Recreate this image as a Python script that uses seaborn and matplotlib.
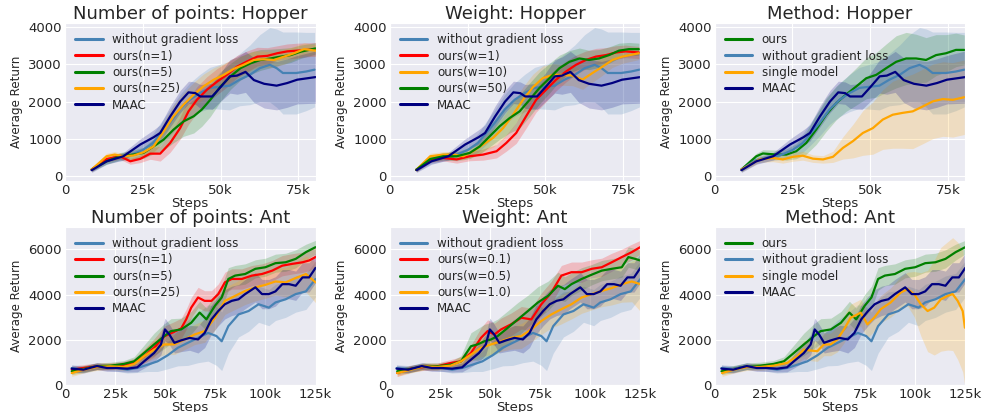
import numpy as np
import matplotlib
matplotlib.use("Agg")
import matplotlib.pyplot as plt
import seaborn as sns

# ---------------- data (steps in thousands) ----------------
# Hopper
hop_maac_x = [8.6, 13.4, 18.8, 24.2, 28.5, 30.6, 33.8, 37.0, 39.7, 41.9, 43.5, 47.3, 50.0, 53.0, 55.3, 58.0, 60.7, 64.0, 68.0, 71.4, 74.6, 80.5]
hop_maac_y = [160, 400, 535, 850, 1045, 1160, 1600, 2000, 2250, 2230, 2140, 2140, 2390, 2680, 2700, 2800, 2580, 2480, 2430, 2500, 2590, 2660]
hop_maac_s = [60, 80, 100, 150, 200, 220, 280, 300, 300, 300, 320, 350, 380, 450, 500, 550, 600, 650, 650, 650, 650, 700]

hop_nograd_x = [8.6, 13.0, 17.0, 21.0, 25.0, 28.3, 30.5, 33.7, 36.9, 40.1, 43.3, 46.5, 49.7, 52.9, 56.1, 59.4, 62.6, 65.8, 68.0, 70.0, 74.3, 77.5, 80.2]
hop_nograd_y = [180, 420, 500, 560, 700, 890, 1110, 1430, 1790, 2050, 2230, 2370, 2400, 2430, 2590, 2720, 2900, 2990, 2900, 2770, 2770, 2810, 2860]
hop_nograd_s = [60, 90, 100, 120, 180, 250, 300, 350, 400, 450, 500, 550, 600, 650, 700, 800, 900, 1000, 1050, 1100, 1100, 1050, 1000]

hop_n1_x = [8.6, 13.4, 17.7, 21.0, 24.2, 27.4, 30.6, 33.8, 37.0, 39.7, 42.4, 45.6, 48.9, 52.0, 55.3, 58.5, 61.8, 65.0, 68.2, 71.4, 74.6, 80.5]
hop_n1_y = [180, 460, 535, 400, 465, 605, 605, 890, 1290, 1740, 2050, 2320, 2540, 2720, 2940, 3080, 3210, 3230, 3300, 3350, 3370, 3410]
hop_n1_s = [50, 80, 80, 80, 100, 150, 200, 250, 300, 350, 350, 350, 350, 330, 300, 280, 250, 220, 200, 200, 200, 180]

hop_n5_x = [8.6, 13.4, 17.7, 22.0, 25.2, 28.5, 31.7, 34.9, 38.1, 41.4, 44.0, 46.7, 50.0, 53.2, 56.4, 59.6, 62.8, 66.0, 69.3, 72.5, 75.7, 80.5]
hop_n5_y = [180, 400, 535, 580, 625, 800, 980, 1250, 1470, 1610, 1790, 2050, 2410, 2680, 2900, 3030, 3120, 3160, 3210, 3250, 3340, 3430]
hop_n5_s = [50, 80, 100, 120, 150, 200, 280, 350, 400, 450, 450, 450, 400, 350, 320, 300, 280, 250, 220, 200, 180, 150]

hop_n25_x = [8.6, 13.4, 16.0, 18.8, 22.0, 25.2, 28.5, 31.7, 34.9, 38.1, 41.4, 44.5, 47.8, 51.0, 54.2, 57.4, 60.7, 63.9, 67.1, 70.4, 73.6, 76.8, 80.5]
hop_n25_y = [180, 535, 580, 535, 555, 640, 800, 1200, 1610, 1920, 2190, 2410, 2590, 2720, 2880, 2990, 3120, 3140, 3120, 3210, 3300, 3410, 3370]
hop_n25_s = [50, 80, 80, 80, 100, 120, 180, 250, 300, 320, 330, 330, 320, 300, 280, 260, 240, 220, 200, 200, 180, 170, 160]

hop_w1_x = [8.5, 13.0, 17.2, 21.5, 25.7, 30.0, 34.3, 37.4, 40.6, 43.8, 47.0, 50.2, 53.4, 56.6, 59.8, 63.0, 66.2, 69.4, 72.6, 75.7, 80.0]
hop_w1_y = [170, 450, 490, 450, 535, 580, 670, 890, 1160, 1610, 2050, 2320, 2590, 2810, 2990, 3120, 3210, 3250, 3320, 3350, 3320]
hop_w1_s = [50, 80, 80, 100, 120, 150, 180, 220, 280, 320, 330, 320, 300, 280, 260, 240, 220, 200, 180, 170, 160]

hop_w10_x = [8.5, 13.0, 17.2, 20.4, 23.6, 26.8, 30.0, 33.2, 36.4, 39.6, 42.8, 46.0, 49.1, 52.3, 55.5, 58.7, 61.9, 65.1, 68.3, 71.5, 74.7, 80.0]
hop_w10_y = [170, 535, 580, 580, 535, 670, 850, 1030, 1290, 1650, 2050, 2390, 2630, 2720, 2720, 2700, 2590, 2770, 2940, 3120, 3210, 3300]
hop_w10_s = [50, 80, 80, 90, 100, 150, 200, 250, 300, 330, 350, 350, 330, 300, 280, 270, 260, 250, 230, 200, 180, 170]

hop_w50_x = [8.5, 13.0, 17.2, 21.5, 25.7, 28.9, 32.1, 35.3, 38.5, 41.7, 44.9, 48.1, 51.3, 54.5, 57.7, 60.9, 64.0, 67.2, 70.4, 73.6, 76.8, 80.0]
hop_w50_y = [170, 460, 535, 535, 625, 800, 1070, 1340, 1560, 1740, 2050, 2370, 2630, 2900, 3070, 3160, 3120, 3160, 3250, 3370, 3410, 3410]
hop_w50_s = [50, 80, 100, 120, 150, 200, 280, 350, 400, 450, 450, 430, 400, 350, 300, 280, 260, 240, 220, 200, 180, 160]

hop_ours_x = [8.6, 13.4, 15.5, 19.8, 23.0, 26.2, 29.4, 32.6, 35.8, 39.0, 42.2, 45.5, 48.7, 51.9, 55.1, 58.3, 61.5, 64.7, 67.9, 71.1, 74.3, 77.5, 80.2]
hop_ours_y = [180, 535, 610, 580, 580, 670, 890, 1250, 1650, 1960, 2190, 2410, 2630, 2720, 2900, 3070, 3160, 3160, 3120, 3250, 3300, 3390, 3390]
hop_ours_s = [60, 80, 100, 120, 150, 200, 300, 400, 450, 450, 450, 500, 550, 600, 650, 700, 700, 650, 600, 550, 500, 450, 400]

hop_single_x = [8.6, 14.4, 18.7, 21.9, 25.1, 28.3, 31.6, 34.8, 38.0, 41.2, 44.4, 47.6, 50.8, 54.0, 57.2, 60.4, 63.6, 66.8, 70.1, 73.3, 76.5, 80.2]
hop_single_y = [180, 450, 490, 450, 520, 550, 470, 450, 520, 760, 940, 1160, 1290, 1520, 1650, 1700, 1740, 1870, 2010, 2070, 2050, 2120]
hop_single_s = [60, 80, 100, 100, 120, 120, 100, 100, 150, 300, 450, 600, 700, 800, 900, 950, 1000, 1000, 1000, 1000, 1000, 1000]

# Ant
ant_maac_x = [3.4, 9.2, 16.0, 21.0, 26.0, 31.1, 36.1, 39.5, 44.5, 47.9, 49.9, 52.1, 54.6, 58.0, 62.2, 66.4, 69.7, 73.1, 76.5, 79.8, 83.2, 86.6, 89.9, 95.0, 98.3, 101.7, 105.0, 108.4, 111.8, 115.1, 118.5, 121.8, 125.0]
ant_maac_y = [715, 670, 830, 745, 745, 715, 775, 1040, 1410, 1785, 2455, 2230, 1860, 1970, 2080, 2010, 2300, 2900, 3270, 3570, 3720, 3790, 4020, 4320, 4020, 4020, 4140, 4460, 4460, 4390, 4760, 4760, 5180]
ant_maac_s = [150, 150, 150, 150, 150, 150, 200, 300, 400, 450, 500, 450, 450, 500, 550, 600, 650, 650, 650, 650, 650, 650, 650, 650, 650, 650, 650, 650, 650, 650, 650, 650, 650]

ant_nograd_x = [3.4, 9.2, 16.0, 21.0, 26.0, 31.1, 36.1, 41.2, 46.2, 51.3, 56.3, 61.3, 66.4, 71.4, 75.6, 78.2, 81.5, 86.6, 91.6, 96.6, 101.7, 105.0, 110.1, 115.1, 120.2, 125.0]
ant_nograd_y = [745, 700, 820, 790, 745, 670, 745, 890, 1040, 1310, 1640, 1860, 2080, 2300, 2160, 1930, 2600, 3120, 3270, 3570, 3420, 3650, 3790, 4020, 4140, 4690]
ant_nograd_s = [150, 150, 150, 150, 150, 150, 200, 300, 450, 600, 800, 1000, 1100, 1250, 1300, 1300, 1200, 1000, 900, 800, 800, 800, 800, 800, 800, 800]

ant_n1_x = [3.4, 9.2, 16.0, 22.7, 29.4, 34.5, 39.5, 44.5, 49.6, 54.6, 58.0, 60.5, 63.0, 66.4, 69.7, 73.1, 76.5, 79.8, 83.2, 88.2, 93.3, 98.3, 103.4, 108.4, 113.4, 118.5, 121.8, 125.0]
ant_n1_y = [670, 745, 820, 820, 890, 970, 1265, 1640, 2150, 2350, 2500, 2900, 3420, 3870, 3720, 3720, 4020, 4540, 4690, 4690, 4840, 4910, 5060, 5280, 5360, 5430, 5510, 5660]
ant_n1_s = [150, 150, 150, 150, 150, 200, 300, 400, 450, 450, 450, 450, 450, 450, 450, 450, 450, 450, 450, 450, 450, 450, 450, 450, 450, 450, 450, 450]

ant_n5_x = [3.4, 9.2, 16.0, 22.7, 29.4, 34.5, 39.5, 44.5, 49.6, 52.9, 58.0, 63.0, 67.2, 70.6, 74.8, 78.2, 81.5, 84.9, 89.9, 95.0, 100.0, 105.0, 110.1, 115.1, 120.2, 125.0]
ant_n5_y = [600, 700, 820, 850, 925, 1040, 1410, 1790, 2160, 2380, 2455, 2750, 3200, 2900, 3500, 3870, 4690, 4840, 4910, 5140, 5210, 5390, 5430, 5580, 5880, 6100]
ant_n5_s = [150, 150, 150, 150, 150, 200, 350, 500, 550, 550, 500, 500, 500, 500, 500, 500, 500, 450, 450, 400, 400, 400, 400, 400, 350, 300]

ant_n25_x = [3.4, 9.2, 16.0, 22.7, 29.4, 34.5, 39.5, 44.5, 49.6, 54.6, 59.7, 64.7, 69.7, 74.8, 79.8, 84.9, 89.9, 95.0, 100.0, 105.0, 110.1, 115.1, 120.2, 125.0]
ant_n25_y = [520, 670, 790, 820, 790, 920, 1265, 1560, 1790, 1790, 2010, 2230, 2380, 2970, 3720, 3940, 4160, 4320, 4430, 4580, 4540, 4730, 4910, 4540]
ant_n25_s = [150, 150, 150, 150, 150, 200, 300, 400, 450, 450, 450, 450, 500, 550, 600, 600, 600, 600, 600, 600, 650, 700, 800, 900]

ant_w01_x = [3.7, 10.4, 17.1, 23.7, 30.4, 35.5, 40.5, 45.5, 48.8, 52.2, 55.5, 60.5, 65.6, 70.6, 75.6, 80.6, 85.6, 90.6, 95.7, 100.7, 105.7, 110.7, 115.7, 120.7, 124.9]
ant_w01_y = [520, 715, 790, 820, 970, 1040, 1410, 2080, 2380, 2230, 2455, 2680, 2970, 2900, 3570, 4090, 4840, 4990, 4990, 5140, 5210, 5430, 5660, 5880, 6100]
ant_w01_s = [150, 150, 150, 150, 150, 200, 350, 450, 500, 500, 500, 500, 500, 500, 500, 500, 450, 450, 450, 400, 400, 400, 350, 350, 300]

ant_w05_x = [3.7, 10.4, 17.1, 23.7, 30.4, 35.5, 40.5, 43.8, 47.2, 50.5, 53.8, 58.9, 63.9, 68.9, 73.9, 78.9, 83.9, 87.3, 90.6, 95.7, 100.7, 105.7, 110.7, 115.7, 119.0, 122.4, 124.9]
ant_w05_y = [600, 700, 820, 820, 890, 1040, 1710, 1790, 1930, 2010, 2160, 2530, 2900, 3270, 3650, 3940, 4390, 4240, 4460, 4690, 4880, 5060, 5140, 5210, 5660, 5580, 5510]
ant_w05_s = [150, 150, 150, 150, 150, 250, 600, 700, 750, 750, 750, 750, 750, 700, 700, 650, 600, 550, 500, 500, 450, 450, 450, 450, 450, 450, 450]

ant_w10_x = [3.7, 10.4, 17.1, 23.7, 30.4, 35.5, 40.5, 45.5, 50.5, 55.5, 60.5, 65.6, 70.6, 75.6, 80.6, 85.6, 90.6, 95.7, 100.7, 105.7, 110.7, 115.7, 120.7, 124.9]
ant_w10_y = [520, 670, 820, 790, 850, 1040, 1340, 1640, 1790, 1930, 2080, 2160, 2455, 2830, 3120, 3350, 3570, 3870, 4020, 4160, 4290, 4460, 4580, 4460]
ant_w10_s = [150, 150, 150, 150, 150, 200, 300, 400, 450, 450, 500, 550, 550, 600, 600, 650, 650, 700, 700, 700, 750, 800, 900, 1200]

ant_single_x = [3.7, 9.5, 16.2, 22.8, 29.5, 36.2, 41.2, 44.5, 47.8, 51.2, 54.5, 57.8, 61.2, 64.5, 67.8, 71.2, 72.8, 76.2, 79.5, 82.8, 87.8, 92.8, 96.2, 99.5, 102.8, 106.2, 109.5, 112.8, 116.2, 118.7, 121.2, 123.7, 124.8]
ant_single_y = [520, 670, 790, 790, 850, 970, 1265, 1560, 1520, 1490, 1790, 1790, 2010, 2455, 2970, 3120, 3200, 2680, 2970, 3350, 3650, 4090, 4240, 4020, 3570, 3270, 3420, 3790, 3940, 4020, 3720, 3270, 2530]
ant_single_s = [150, 150, 150, 150, 150, 200, 300, 400, 450, 450, 500, 500, 550, 600, 600, 600, 600, 600, 600, 600, 650, 700, 750, 1000, 1400, 1800, 2100, 2300, 2400, 2500, 2600, 2700, 2600]

# tick labels
hop_xticks = [0, 25, 50, 75]
hop_xticklabels = ["0", "25k", "50k", "75k"]
hop_yticks = [0, 1000, 2000, 3000, 4000]
ant_xticks = [0, 25, 50, 75, 100, 125]
ant_xticklabels = ["0", "25k", "50k", "75k", "100k", "125k"]
ant_yticks = [0, 2000, 4000, 6000]

# ---------------- style ----------------
C_NOGRAD = "#4682B4"
C_RED = "#FF0000"
C_GREEN = "#008000"
C_ORANGE = "#FFA500"
C_NAVY = "#000080"

sns.set_style("darkgrid")
plt.rcParams["font.family"] = ["DejaVu Sans"]

fig, axes = plt.subplots(2, 3, figsize=(9.83, 4.12), dpi=100)
fig.subplots_adjust(left=0.066, right=0.982, top=0.944, bottom=0.066,
                    wspace=0.296, hspace=0.29)

hop_nograd = ("without gradient loss", C_NOGRAD, hop_nograd_x, hop_nograd_y, hop_nograd_s)
hop_maac = ("MAAC", C_NAVY, hop_maac_x, hop_maac_y, hop_maac_s)
ant_nograd = ("without gradient loss", C_NOGRAD, ant_nograd_x, ant_nograd_y, ant_nograd_s)
ant_maac = ("MAAC", C_NAVY, ant_maac_x, ant_maac_y, ant_maac_s)

panels = [
    ("Number of points: Hopper", "hop", [
        hop_nograd,
        ("ours(n=1)", C_RED, hop_n1_x, hop_n1_y, hop_n1_s),
        ("ours(n=5)", C_GREEN, hop_n5_x, hop_n5_y, hop_n5_s),
        ("ours(n=25)", C_ORANGE, hop_n25_x, hop_n25_y, hop_n25_s),
        hop_maac]),
    ("Weight: Hopper", "hop", [
        hop_nograd,
        ("ours(w=1)", C_RED, hop_w1_x, hop_w1_y, hop_w1_s),
        ("ours(w=10)", C_ORANGE, hop_w10_x, hop_w10_y, hop_w10_s),
        ("ours(w=50)", C_GREEN, hop_w50_x, hop_w50_y, hop_w50_s),
        hop_maac]),
    ("Method: Hopper", "hop", [
        ("ours", C_GREEN, hop_ours_x, hop_ours_y, hop_ours_s),
        hop_nograd,
        ("single model", C_ORANGE, hop_single_x, hop_single_y, hop_single_s),
        hop_maac]),
    ("Number of points: Ant", "ant", [
        ant_nograd,
        ("ours(n=1)", C_RED, ant_n1_x, ant_n1_y, ant_n1_s),
        ("ours(n=5)", C_GREEN, ant_n5_x, ant_n5_y, ant_n5_s),
        ("ours(n=25)", C_ORANGE, ant_n25_x, ant_n25_y, ant_n25_s),
        ant_maac]),
    ("Weight: Ant", "ant", [
        ant_nograd,
        ("ours(w=0.1)", C_RED, ant_w01_x, ant_w01_y, ant_w01_s),
        ("ours(w=0.5)", C_GREEN, ant_w05_x, ant_w05_y, ant_w05_s),
        ("ours(w=1.0)", C_ORANGE, ant_w10_x, ant_w10_y, ant_w10_s),
        ant_maac]),
    ("Method: Ant", "ant", [
        ("ours", C_GREEN, ant_n5_x, ant_n5_y, ant_n5_s),
        ant_nograd,
        ("single model", C_ORANGE, ant_single_x, ant_single_y, ant_single_s),
        ant_maac]),
]

for ax, (title, env, series) in zip(axes.flat, panels):
    for label, color, xs, ys, ss in series:
        n = min(len(xs), len(ys), len(ss))
        x = np.asarray(xs[:n], float) * 1000
        y = np.asarray(ys[:n], float)
        s = np.asarray(ss[:n], float)
        ax.fill_between(x, y - s, y + s, color=color, alpha=0.2, lw=0)
        sns.lineplot(x=x, y=y, ax=ax, color=color, lw=1.6, label=label)
    if env == "hop":
        ax.set_xlim(0, 80500)
        ax.set_ylim(-130, 4110)
        ax.set_xticks([v * 1000 for v in hop_xticks])
        ax.set_xticklabels(hop_xticklabels)
        ax.set_yticks(hop_yticks)
    else:
        ax.set_xlim(0, 125000)
        ax.set_ylim(0, 7000)
        ax.set_xticks([v * 1000 for v in ant_xticks])
        ax.set_xticklabels(ant_xticklabels)
        ax.set_yticks(ant_yticks)
    ax.set_title(title, fontsize=13, pad=3)
    ax.set_xlabel("Steps", fontsize=9.5, labelpad=0)
    ax.set_ylabel("Average Return", fontsize=8.6, labelpad=4)
    ax.tick_params(labelsize=9.5, length=0, pad=2, colors="#262626")
    leg = ax.legend(loc="upper left", fontsize=8.6, frameon=False,
                    handlelength=2.3, labelspacing=0.28, borderaxespad=0.45,
                    handletextpad=0.8)
    for ln in leg.get_lines():
        ln.set_linewidth(2.2)

fig.savefig("out.png", dpi=100)
